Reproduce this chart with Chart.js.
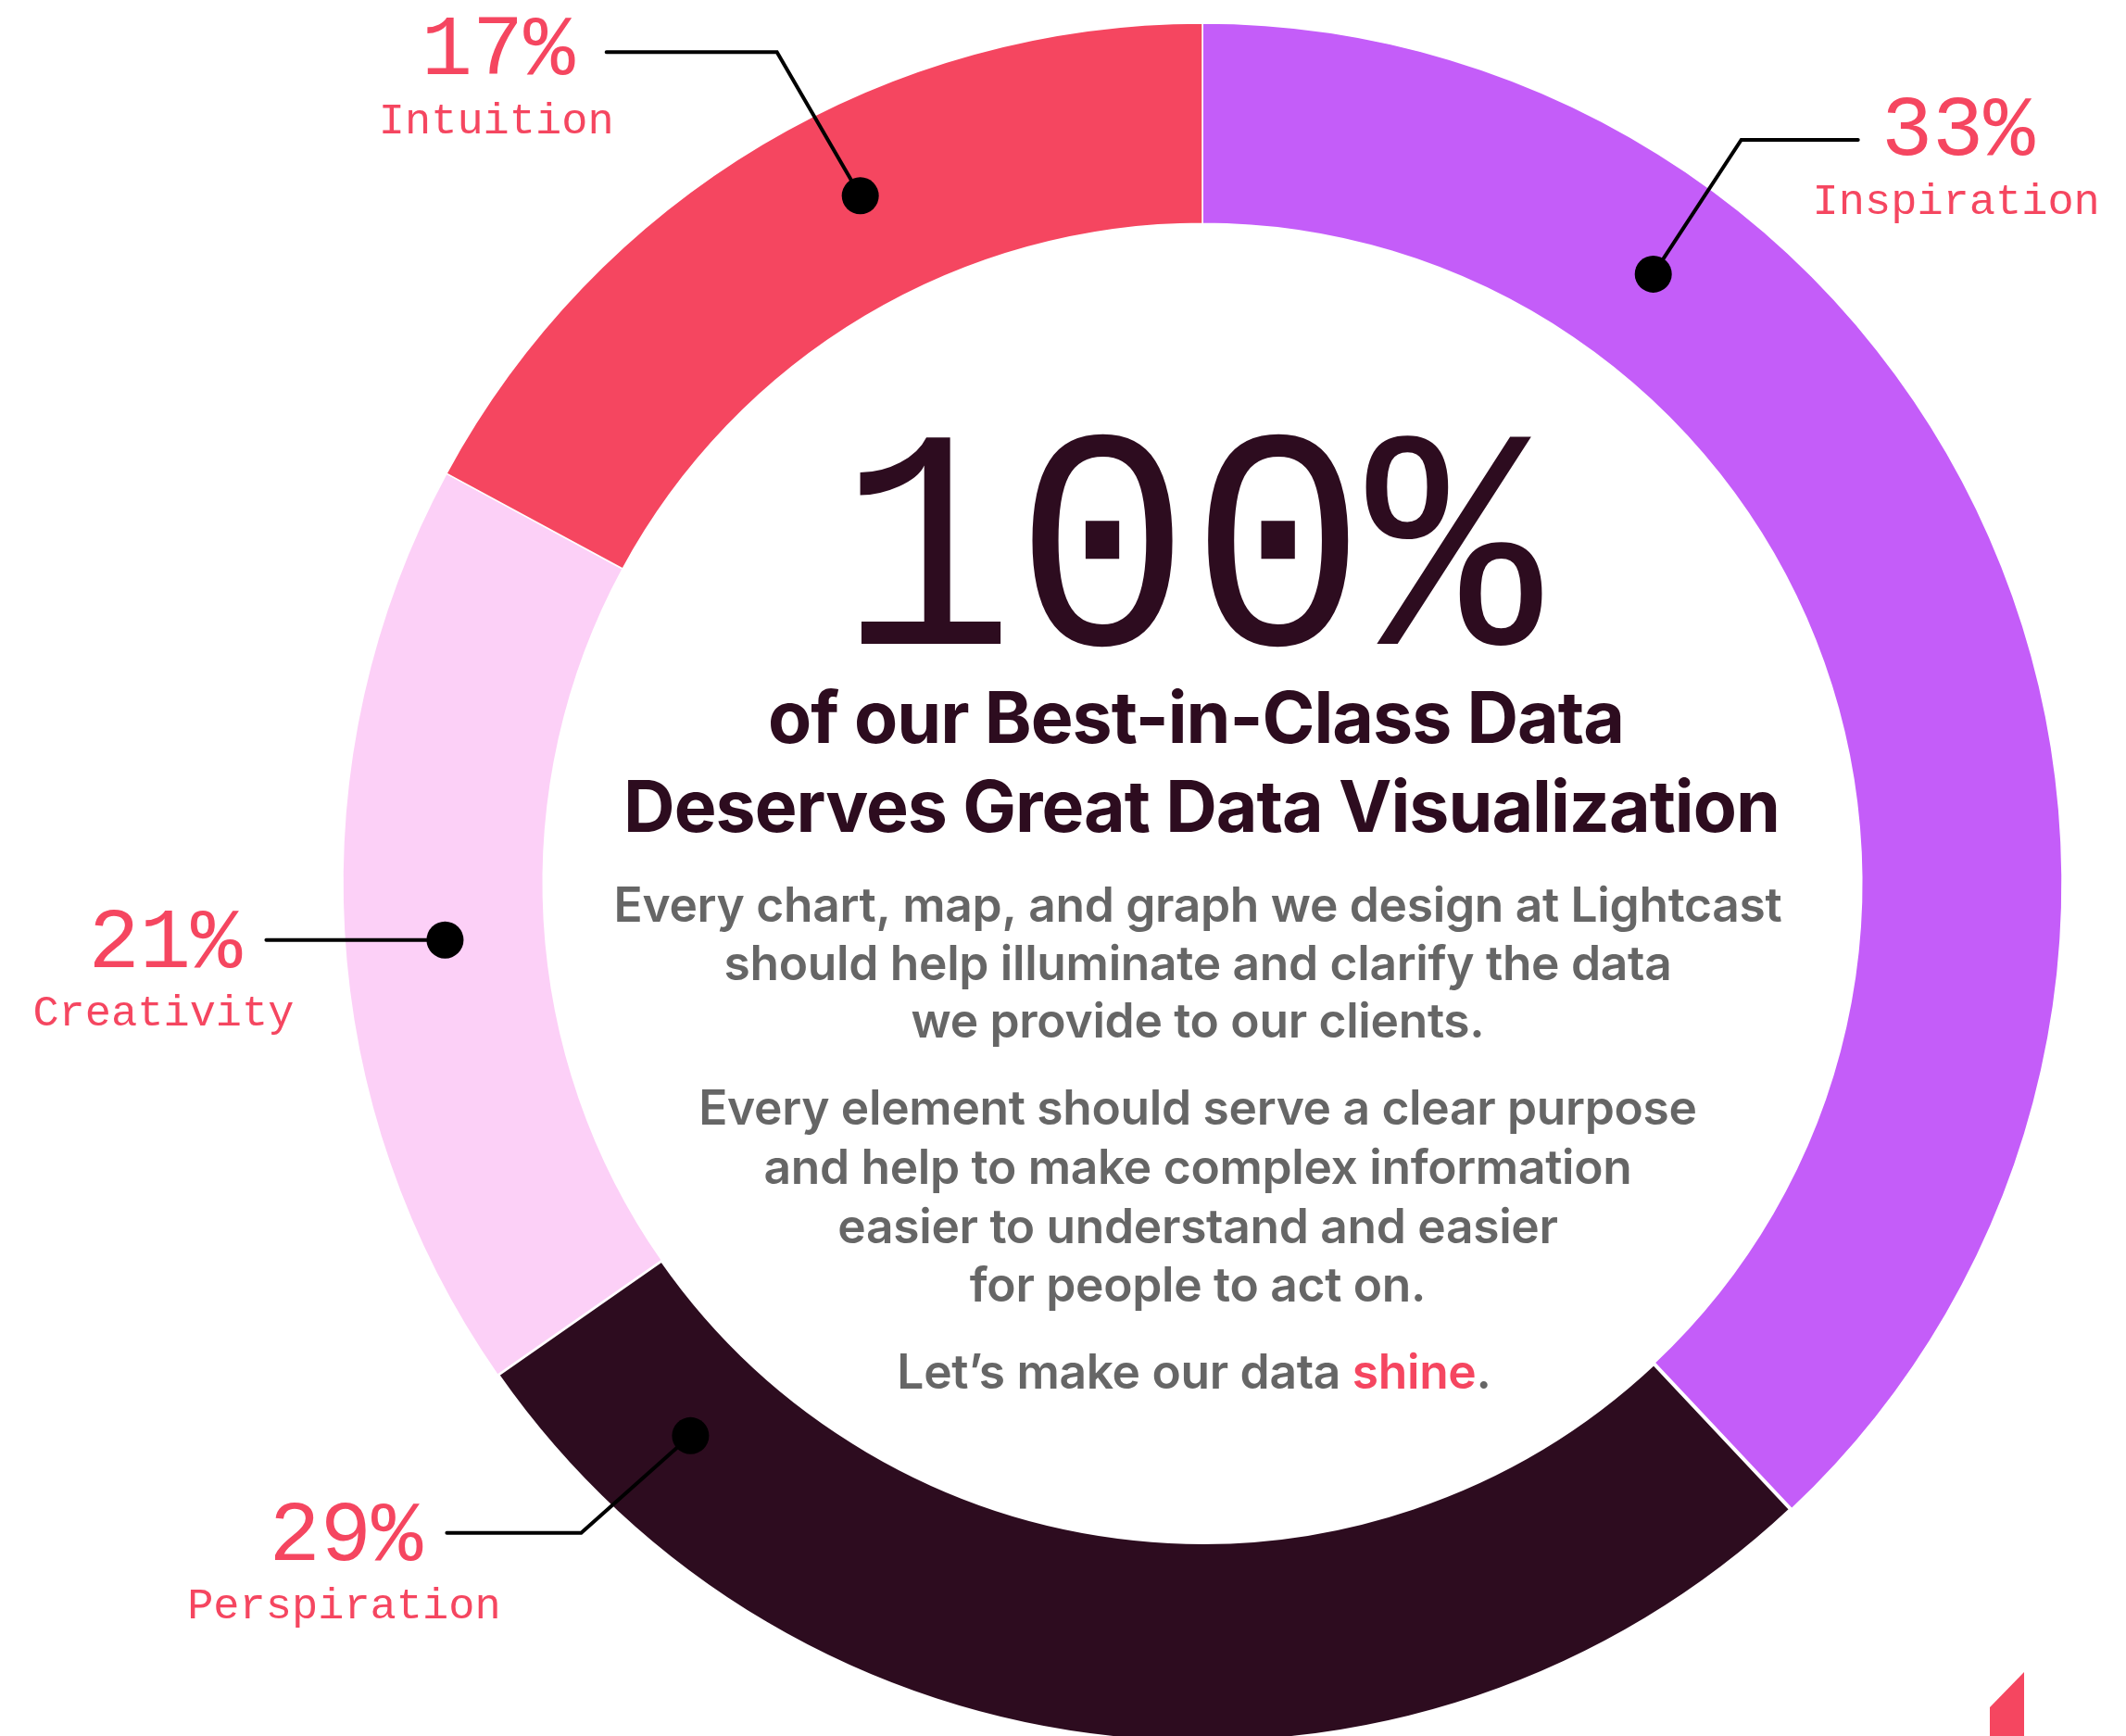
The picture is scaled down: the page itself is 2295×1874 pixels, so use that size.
<!DOCTYPE html>
<html>
<head>
<meta charset="utf-8">
<script src="https://cdn.jsdelivr.net/npm/chart.js@4.4.1/dist/chart.umd.min.js"></script>
<style>
  html, body { margin: 0; padding: 0; background: #fff; }
  #wrap { position: relative; width: 2295px; height: 1874px; overflow: hidden; }
  #chart { position: absolute; left: 0; top: 0; }
  #mark {
    position: absolute; left: 2148px; top: 1805px; width: 37px; height: 69px;
    background: #F54660; clip-path: polygon(0 38px, 100% 0, 100% 100%, 0 100%);
  }
</style>
</head>
<body>
<div id="wrap">
  <canvas id="chart" width="2295" height="1874"></canvas>
  <div id="mark"></div>
</div>
<script>
// ring data (arc sizes as drawn) and the labels printed next to them
const labels = ["Inspiration", "Perspiration", "Creativity", "Intuition"];
const arcShares = [38.0, 27.3, 17.6, 17.1];
const pctLabels = ["33%", "29%", "21%", "17%"];
const colors = ["#C45DF9", "#2D0C1F", "#FCD0F7", "#F54660"];

const RED = "#F54660";
const DARK = "#2D0C1F";
const GREY = "#666666";

// where each callout leaves its arc, and how the leader line runs
const callouts = [
  { pos: 0.267, rf: 0.49, elbow: [95, -145],  run: 126,  txt: [108, 16, 80] },
  { pos: 0.875, rf: 0.47, elbow: [-118, 105], run: -145, txt: [-109, 29, 92] },
  { pos: 0.483, rf: 0.50, elbow: [0, 0],      run: -193, txt: [-109, 29, 92] },
  { pos: 0.57,  rf: 0.54, elbow: [-90, -155], run: -184, txt: [-117, 24, 88] }
];

const heading = ["of our Best-in-Class Data", "Deserves Great Data Visualization"];
const body1 = ["Every chart, map, and graph we design at Lightcast",
               "should help illuminate and clarify the data",
               "we provide to our clients."];
const body2 = ["Every element should serve a clear purpose",
               "and help to make complex information",
               "easier to understand and easier",
               "for people to act on."];

function drawCallouts(chart) {
  const ctx = chart.ctx;
  const meta = chart.getDatasetMeta(0);
  ctx.save();
  meta.data.forEach((arc, i) => {
    const c = callouts[i];
    const p = arc.getProps(["x", "y", "startAngle", "endAngle", "innerRadius", "outerRadius"], true);
    const a = p.startAngle + c.pos * (p.endAngle - p.startAngle);
    const r = p.innerRadius + c.rf * (p.outerRadius - p.innerRadius);
    const dx = p.x + Math.cos(a) * r;
    const dy = p.y + Math.sin(a) * r;
    const ex = dx + c.elbow[0], ey = dy + c.elbow[1];
    const hx = ex + c.run;

    ctx.strokeStyle = "#000";
    ctx.lineWidth = 4;
    ctx.lineCap = "round";
    ctx.lineJoin = "miter";
    ctx.beginPath();
    ctx.moveTo(dx, dy);
    ctx.lineTo(ex, ey);
    ctx.lineTo(hx, ey);
    ctx.stroke();

    ctx.fillStyle = "#000";
    ctx.beginPath();
    ctx.arc(dx, dy, 20, 0, Math.PI * 2);
    ctx.fill();

    ctx.fillStyle = RED;
    ctx.textAlign = "center";
    ctx.textBaseline = "alphabetic";
    ctx.font = "92px 'Liberation Mono', monospace";
    ctx.fillText(pctLabels[i], hx + c.txt[0], ey + c.txt[1]);
    ctx.font = "47px 'Liberation Mono', monospace";
    ctx.fillText(labels[i], hx + c.txt[0] - 2, ey + c.txt[2]);
  });
  ctx.restore();
}

function drawCentre(chart) {
  const ctx = chart.ctx;
  const cx = 1293;
  ctx.save();
  ctx.textAlign = "center";
  ctx.textBaseline = "alphabetic";

  // big figure, a little taller than the plain mono face
  ctx.fillStyle = DARK;
  ctx.save();
  ctx.translate(1285, 695);
  ctx.scale(1, 1.07);
  ctx.font = "316px 'Liberation Mono', monospace";
  ctx.fillText("100%", 0, 0);
  ctx.restore();

  ctx.font = "700 77px Inter, sans-serif";
  ctx.letterSpacing = "-1px";
  ctx.fillText(heading[0], cx - 2, 802);
  ctx.fillText(heading[1], cx + 4, 898);

  ctx.fillStyle = GREY;
  ctx.font = "600 51.5px Inter, sans-serif";
  ctx.letterSpacing = "-0.3px";
  [995, 1058, 1120].forEach((y, k) => ctx.fillText(body1[k], cx, y));
  [1214, 1278, 1342, 1405].forEach((y, k) => ctx.fillText(body2[k], cx, y));

  // last line: grey text with the red word
  const a = "Let\u2019s make our data ", b = "shine", c = ".";
  const wa = ctx.measureText(a).width, wb = ctx.measureText(b).width, wc = ctx.measureText(c).width;
  let x = cx - 4 - (wa + wb + wc) / 2;
  ctx.textAlign = "left";
  ctx.fillText(a, x, 1499); x += wa;
  ctx.fillStyle = RED;
  ctx.fillText(b, x, 1499); x += wb;
  ctx.fillStyle = GREY;
  ctx.fillText(c, x, 1499);
  ctx.restore();
}

const annotate = {
  id: "annotate",
  afterDraw(chart) {
    drawCallouts(chart);
    drawCentre(chart);
  }
};

new Chart(document.getElementById("chart"), {
  type: "doughnut",
  data: {
    labels: labels,
    datasets: [{
      data: arcShares,
      backgroundColor: colors,
      borderColor: "#ffffff",
      borderWidth: [1.5, 4, 1.5, 1.5],
      clip: false
    }]
  },
  options: {
    responsive: false,
    devicePixelRatio: 1,
    animation: false,
    events: [],
    radius: 928,
    cutout: "76.7%",
    layout: { padding: { left: 301, right: 0, top: 32, bottom: 0 } },
    plugins: { legend: { display: false }, tooltip: { enabled: false } }
  },
  plugins: [annotate]
});
</script>
</body>
</html>
